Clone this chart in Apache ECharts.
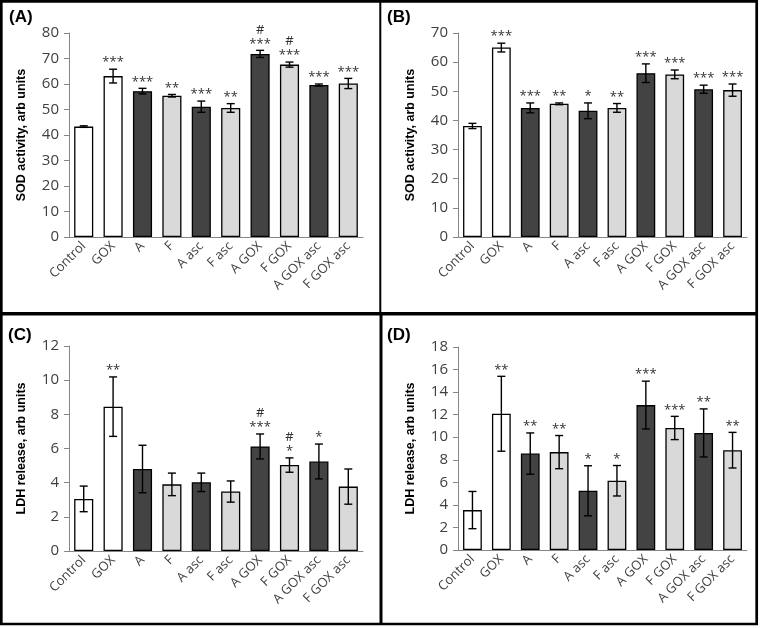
<!DOCTYPE html>
<html>
<head>
<meta charset="utf-8">
<script src="https://cdn.jsdelivr.net/npm/echarts@6/dist/echarts.min.js"></script>
<style>
  html, body { margin: 0; padding: 0; background: #fff; }
  #container { width: 761px; height: 628px; }
</style>
</head>
<body>
<div id="container"></div>
<script>
var categories = ['Control', 'GOX', 'A', 'F', 'A asc', 'F asc', 'A GOX', 'F GOX', 'A GOX asc', 'F GOX asc'];

// (A) SOD activity
var sodA = [43.3, 63.1, 57.2, 55.4, 51.1, 50.6, 71.8, 67.6, 59.6, 60.2];
var sodAErr = [0.3, 2.7, 1.1, 0.5, 2.2, 1.7, 1.4, 1.0, 0.4, 2.0];
var sodASig = ['', '***', '***', '**', '***', '**', '#\n***', '#\n***', '***', '***'];

// (B) SOD activity
var sodB = [38.1, 65.0, 44.3, 45.7, 43.3, 44.3, 56.2, 55.8, 50.7, 50.4];
var sodBErr = [0.9, 1.5, 1.7, 0.3, 2.7, 1.5, 3.2, 1.5, 1.4, 2.1];
var sodBSig = ['', '***', '***', '**', '*', '**', '***', '***', '***', '***'];

// (C) LDH release
var ldhC = [3.05, 8.45, 4.8, 3.9, 4.02, 3.48, 6.12, 5.03, 5.24, 3.77];
var ldhCErr = [0.75, 1.74, 1.39, 0.66, 0.54, 0.62, 0.73, 0.42, 1.02, 1.03];
var ldhCSig = ['', '**', '', '', '', '', '#\n***', '#\n*', '*', ''];

// (D) LDH release
var ldhD = [3.54, 12.08, 8.55, 8.68, 5.25, 6.14, 12.85, 10.82, 10.38, 8.85];
var ldhDErr = [1.65, 3.32, 1.83, 1.47, 2.22, 1.35, 2.12, 1.03, 2.13, 1.58];
var ldhDSig = ['', '**', '**', '**', '*', '*', '***', '***', '**', '**'];

var yTicksSodA = { max: 80, interval: 10 };
var yTicksSodB = { max: 70, interval: 10 };
var yTicksLdhC = { max: 12, interval: 2 };
var yTicksLdhD = { max: 18, interval: 2 };

var fills = ['#ffffff', '#ffffff', '#434343', '#d9d9d9', '#434343', '#d9d9d9', '#434343', '#d9d9d9', '#434343', '#d9d9d9'];

var panels = [
  { label: '(A)', vals: sodA, err: sodAErr, sig: sodASig, ticks: yTicksSodA, name: 'SOD activity, arb units',
    grid: { left: 69, top: 33, width: 294, height: 204 }, lab: [9, 18] },
  { label: '(B)', vals: sodB, err: sodBErr, sig: sodBSig, ticks: yTicksSodB, name: 'SOD activity, arb units',
    grid: { left: 458, top: 33, width: 289, height: 204 }, lab: [387, 18] },
  { label: '(C)', vals: ldhC, err: ldhCErr, sig: ldhCSig, ticks: yTicksLdhC, name: 'LDH release, arb units',
    grid: { left: 69, top: 346, width: 294, height: 205 }, lab: [8, 336] },
  { label: '(D)', vals: ldhD, err: ldhDErr, sig: ldhDSig, ticks: yTicksLdhD, name: 'LDH release, arb units',
    grid: { left: 458, top: 347, width: 289, height: 203 }, lab: [387, 336] }
];

var axisGray = '#868686';
var textGray = '#404040';
var grids = [], xAxes = [], yAxes = [], series = [], graphics = [];

panels.forEach(function (p, k) {
  grids.push(p.grid);
  xAxes.push({
    type: 'category', gridIndex: k, data: categories,
    axisLine: { lineStyle: { color: axisGray, width: 1 } },
    axisTick: { length: 5, lineStyle: { color: axisGray } },
    axisLabel: { rotate: 45, interval: 0, margin: 7, fontFamily: 'Open Sans', fontSize: 13, color: textGray }
  });
  yAxes.push({
    type: 'value', gridIndex: k, min: 0, max: p.ticks.max, interval: p.ticks.interval,
    name: p.name, nameLocation: 'middle', nameRotate: 90, nameGap: 41,
    nameTextStyle: { fontFamily: 'Liberation Sans', fontWeight: 'bold', fontSize: 12.5, color: '#000' },
    axisLine: { show: true, lineStyle: { color: axisGray, width: 1 } },
    axisTick: { show: true, length: 5, lineStyle: { color: axisGray } },
    splitLine: { show: false },
    axisLabel: { margin: 10, fontFamily: 'Open Sans', fontSize: 15, color: textGray }
  });
  series.push({
    type: 'bar', xAxisIndex: k, yAxisIndex: k, barCategoryGap: '35%',
    data: p.vals.map(function (v, i) {
      return { value: v, itemStyle: { color: fills[i], borderColor: '#000', borderWidth: 1.3 } };
    }),
    silent: true, animation: false
  });
  series.push({
    type: 'custom', xAxisIndex: k, yAxisIndex: k, animation: false, silent: true, z: 5,
    data: p.vals.map(function (v, i) { return [i, v, p.err[i]]; }),
    encode: { x: 0, y: 1 },
    renderItem: function (params, api) {
      var i = api.value(0), m = api.value(1), e = api.value(2);
      var top = api.coord([i, m + e]);
      var bot = api.coord([i, m - e]);
      var cw = 4;
      var ls = { stroke: '#000', lineWidth: 1.4 };
      var children = [
        { type: 'line', shape: { x1: top[0], y1: top[1], x2: bot[0], y2: bot[1] }, style: ls },
        { type: 'line', shape: { x1: top[0] - cw, y1: top[1], x2: top[0] + cw, y2: top[1] }, style: ls },
        { type: 'line', shape: { x1: bot[0] - cw, y1: bot[1], x2: bot[0] + cw, y2: bot[1] }, style: ls }
      ];
      var s = p.sig[params.dataIndex];
      if (s) {
        var lines = s.split('\n');
        for (var j = 0; j < lines.length; j++) {
          var isHash = lines[j].indexOf('#') >= 0;
          children.push({
            type: 'text',
            style: {
              text: lines[j], x: top[0], y: top[1] - (isHash ? 14 : 0),
              textAlign: 'center', textVerticalAlign: 'bottom',
              fill: '#333', font: '13px "Open Sans"'
            }
          });
        }
      }
      return { type: 'group', children: children };
    }
  });
  graphics.push({
    type: 'text', left: p.lab[0], top: p.lab[1] - 9,
    style: { text: p.label, font: 'bold 17px "Liberation Sans"', fill: '#000' }
  });
});

// panel frames
graphics.push(
  { type: 'rect', shape: { x: 1.3, y: 1.3, width: 755.4, height: 622.7 }, style: { fill: 'none', stroke: '#000', lineWidth: 2.7 } },
  { type: 'line', shape: { x1: 0, y1: 313.7, x2: 757, y2: 313.7 }, style: { stroke: '#000', lineWidth: 3.5 } },
  { type: 'line', shape: { x1: 380.3, y1: 0, x2: 380.3, y2: 313 }, style: { stroke: '#000', lineWidth: 2 } },
  { type: 'line', shape: { x1: 381, y1: 313, x2: 381, y2: 624 }, style: { stroke: '#000', lineWidth: 3 } }
);

var chart = echarts.init(document.getElementById('container'), null, { renderer: 'canvas' });
chart.setOption({
  animation: false,
  backgroundColor: '#fff',
  grid: grids,
  xAxis: xAxes,
  yAxis: yAxes,
  series: series,
  graphic: graphics
});
</script>
</body>
</html>
